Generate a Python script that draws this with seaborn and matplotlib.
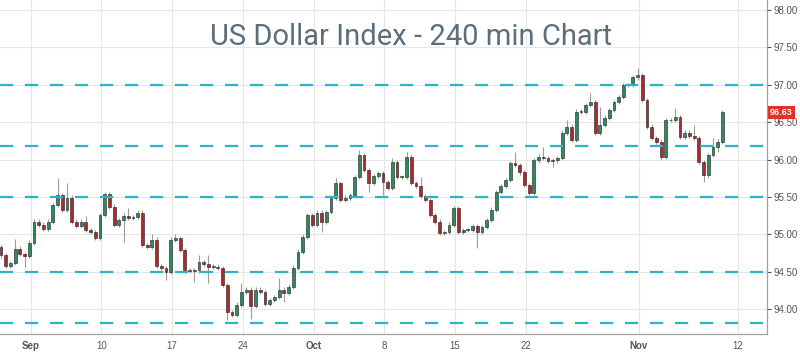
import numpy as np
import pandas as pd
import matplotlib
matplotlib.use("Agg")
import matplotlib.pyplot as plt
import matplotlib.transforms as mtransforms
import seaborn as sns

# US Dollar Index, 240 min candles (3 candles per trading day)
first_day = -2.1          # trading-day offset of first candle (0 = Sep 3)
candles_per_day = 3
first_open = 94.83
closes = [
    94.72, 94.58, 94.62, 94.81, 94.74, 94.71, 94.89, 95.17, 95.13, 95.07,
    95.17, 95.39, 95.53, 95.33, 95.49, 95.17, 95.11, 95.17, 95.06, 95.03,
    94.95, 95.26, 95.54, 95.37, 95.13, 95.19, 95.25, 95.22, 95.23, 95.29,
    94.86, 94.83, 94.93, 94.58, 94.55, 94.50, 94.93, 94.95, 94.79, 94.52,
    94.51, 94.52, 94.63, 94.61, 94.57, 94.57, 94.55, 94.32, 93.96, 93.92,
    94.06, 94.23, 94.26, 94.04, 94.26, 94.23, 94.07, 94.12, 94.16, 94.26,
    94.22, 94.30, 94.55, 94.77, 94.97, 95.26, 95.13, 95.29, 95.17, 95.30,
    95.49, 95.69, 95.46, 95.49, 95.53, 95.77, 96.06, 95.86, 95.69, 95.78,
    95.82, 95.70, 95.62, 95.97, 95.77, 95.77, 96.04, 95.69, 95.65, 95.51,
    95.46, 95.26, 95.17, 95.02, 95.03, 95.13, 95.35, 95.03, 95.06, 95.06,
    95.11, 95.03, 95.10, 95.19, 95.33, 95.57, 95.65, 95.73, 95.95, 95.93,
    95.83, 95.66, 95.55, 95.99, 96.04, 96.02, 95.98, 95.99, 96.02, 96.36,
    96.44, 96.26, 96.64, 96.64, 96.73, 96.77, 96.36, 96.46, 96.56, 96.66,
    96.77, 96.84, 97.00, 97.00, 97.10, 97.13, 96.80, 96.44, 96.29, 96.24,
    96.04, 96.53, 96.53, 96.57, 96.30, 96.36, 96.32, 96.29, 95.97, 95.79,
    96.06, 96.17, 96.24, 96.63,
]
base_wick = 0.03
upper_wicks = {3: 0.13, 12: 0.22, 14: 0.20, 18: 0.08, 27: 0.10, 32: 0.08, 37: 0.06,
               42: 0.09, 44: 0.11, 51: 0.12, 59: 0.16, 62: 0.04, 71: 0.06, 76: 0.07,
               83: 0.05, 86: 0.06, 89: 0.12, 109: 0.15, 115: 0.13, 120: 0.09,
               125: 0.12, 127: 0.24, 135: 0.09, 143: 0.12, 147: 0.14, 151: 0.12}
lower_wicks = {5: 0.15, 26: 0.29, 35: 0.11, 41: 0.15, 44: 0.22, 48: 0.10, 53: 0.17,
               60: 0.12, 68: 0.14, 78: 0.12, 81: 0.17, 101: 0.21, 117: 0.08,
               140: 0.05, 149: 0.09, 152: 0.07}

levels = [97.00, 96.18, 95.50, 94.50, 93.81]
last_price = 96.63

tick_days = [0, 5, 10, 15, 20, 25, 30, 35, 43, 50]
tick_labels = ["Sep", "10", "17", "24", "Oct", "8", "15", "22", "Nov", "12"]
month_labels = {"Sep", "Oct", "Nov"}
yticks = [94.0, 94.5, 95.0, 95.5, 96.0, 96.5, 97.0, 97.5, 98.0]

# build the candle table
df = pd.DataFrame({"close": closes})
df["open"] = [first_open] + closes[:-1]
df["day"] = first_day + np.arange(len(df)) / candles_per_day
df["up"] = [upper_wicks.get(i, base_wick) for i in range(len(df))]
df["dn"] = [lower_wicks.get(i, base_wick) for i in range(len(df))]
df["high"] = df[["open", "close"]].max(axis=1) + df["up"]
df["low"] = df[["open", "close"]].min(axis=1) - df["dn"]
df["bottom"] = df[["open", "close"]].min(axis=1)
df["height"] = (df["close"] - df["open"]).abs().clip(lower=0.006)
df["color"] = np.where(df["close"] >= df["open"], "#2f8a5e", "#b3262b")

sns.set_style("whitegrid", {"grid.color": "#e6e6e6", "axes.edgecolor": "#9a9a9a"})
plt.rcParams["lines.scale_dashes"] = False
plt.rcParams["font.family"] = ["Liberation Sans", "DejaVu Sans"]

fig = plt.figure(figsize=(8, 3.54), dpi=100)
ax = fig.add_axes([0, 20 / 354, 767 / 800, 334 / 354])

ax.vlines(df["day"], df["low"], df["high"], color="#9c9c9c", lw=0.8, zorder=2)
ax.bar(df["day"], df["height"], bottom=df["bottom"], width=0.2,
       color=df["color"], edgecolor="#1e1e1e", linewidth=0.4, zorder=3)

for lv in levels:
    ax.axhline(lv, color="#2bb3c6", lw=1.6, dashes=(9.5, 8.5), zorder=4)

ax.set_xlim(-2.17, 52.05)
ax.set_ylim(93.668, 98.134)
ax.set_xticks(tick_days)
ax.set_xticklabels(tick_labels)
for t in ax.get_xticklabels():
    if t.get_text() in month_labels:
        t.set_fontweight("bold")
ax.set_yticks(yticks)
ax.set_yticklabels([f"{v:.2f}" for v in yticks])
ax.yaxis.tick_right()
ax.tick_params(axis="both", labelsize=7, colors="#555555", length=3, width=0.8,
               direction="out")
ax.tick_params(axis="y", pad=2)
ax.tick_params(axis="x", pad=2)
ax.grid(True, color="#e6e6e6", lw=0.8)
ax.set_axisbelow(True)
for side in ["left", "top"]:
    ax.spines[side].set_visible(False)
for side in ["right", "bottom"]:
    ax.spines[side].set_color("#a0a0a0")
    ax.spines[side].set_linewidth(0.9)

trans = mtransforms.blended_transform_factory(ax.transAxes, ax.transData)
ax.text(1.004, last_price, f"{last_price:.2f}", transform=trans, ha="left", va="center",
        fontsize=6.5, color="white", fontweight="bold", clip_on=False, zorder=6,
        bbox=dict(boxstyle="square,pad=0.25", fc="#e2302b", ec="none"))

fig.text(411 / 800, 1 - 37 / 354, "US Dollar Index - 240 min Chart", ha="center",
         va="center", fontsize=21, color="#5b6e7d",
         family=["Liberation Sans Narrow", "Roboto", "DejaVu Sans"])

fig.savefig("out.png", dpi=100)
